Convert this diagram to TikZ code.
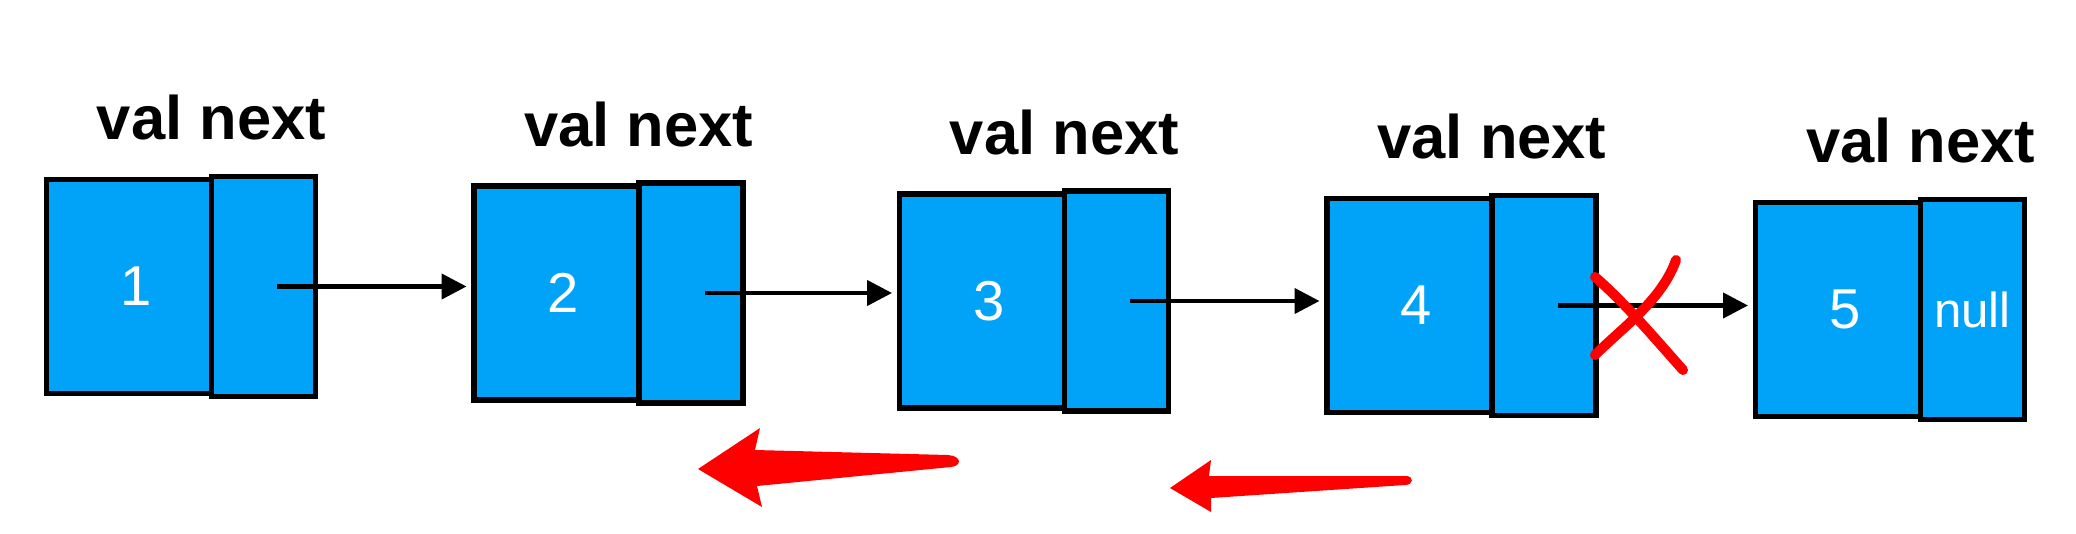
\documentclass[tikz,border=0pt]{standalone}
\usepackage{xcolor}
\usepackage{tikz}
\usepackage{fontspec}
\usetikzlibrary{positioning,arrows.meta}
\setmainfont{Liberation Sans}
\definecolor{nodeblue}{RGB}{0, 163, 247}
\definecolor{cutred}{RGB}{255, 0, 0}

\begin{document}
\begin{tikzpicture}[
  x=0.02cm, y=-0.02cm,
  valbox/.style={rectangle, draw=black, line width=0.11cm, fill=nodeblue, outer sep=0pt,
    minimum width=3.3cm, minimum height=4.28cm, text=white, font=\fontsize{32}{36}\selectfont,
    execute at begin node={\hspace*{2.8mm}}},
  nextbox/.style={rectangle, draw=black, line width=0.11cm, fill=nodeblue, outer sep=0pt,
    minimum width=2.08cm, minimum height=4.4cm, text=white, font=\fontsize{28}{32}\selectfont},
  field/.style={inner sep=0pt, font=\fontsize{35}{40}\selectfont\bfseries},
  arrow/.style={->, >={Triangle[length=0.5cm, width=0.5cm]}, line width=0.085cm, shorten >=0.15cm},
  cross/.style={cutred, line width=0.2cm, line cap=round}
]
  \useasboundingbox (0,0) rectangle (2076,534);

  \node[valbox] (v1) at (129,286.5) {1};
  \node[nextbox, right=0pt of v1] (n1) {};
  \node[valbox] (v2) at (556.5,293) {2};
  \node[nextbox, right=0pt of v2] (n2) {};
  \node[valbox] (v3) at (982,301) {3};
  \node[nextbox, right=0pt of v3] (n3) {};
  \node[valbox] (v4) at (1409.5,305.5) {4};
  \node[nextbox, right=0pt of v4] (n4) {};
  \node[valbox] (v5) at (1838,309.5) {5};
  \node[nextbox, right=0pt of v5] (n5) {null};

  \node[field, above=0.72cm of n1.north west] (f1) {val next};
  \node[field, above=0.72cm of n2.north west] (f2) {val next};
  \node[field, above=0.72cm of n3.north west] (f3) {val next};
  \node[field, above=0.72cm of n4.north west] (f4) {val next};
  \node[field, above=0.72cm of n5.north west] (f5) {val next};

  \draw[arrow] ([xshift=0.28cm]n1.center) -- (n1.center -| v2.west);
  \draw[arrow] ([xshift=0.28cm]n2.center) -- (n2.center -| v3.west);
  \draw[arrow] ([xshift=0.28cm]n3.center) -- (n3.center -| v4.west);
  \draw[arrow] ([xshift=0.28cm]n4.center) -- (n4.center -| v5.west);

  % cut link
  \draw[cross] (1595,355) .. controls (1622,328) and (1662,300) .. (1676,260);
  \draw[cross] (1595,277) .. controls (1622,300) and (1652,335) .. (1683,370);

  % reverse direction
  \fill[cutred] (698,469) -- (760,428) -- (755,450) -- (948,455)
    .. controls (962,456) and (962,466) .. (951,467) -- (757,486) -- (762,507) -- cycle;
  \fill[cutred] (1170,488) -- (1211,460) -- (1209,476) -- (1406,476)
    .. controls (1414,476) and (1414,485) .. (1405,485) -- (1211,498) -- (1211,512) -- cycle;
\end{tikzpicture}
\end{document}
